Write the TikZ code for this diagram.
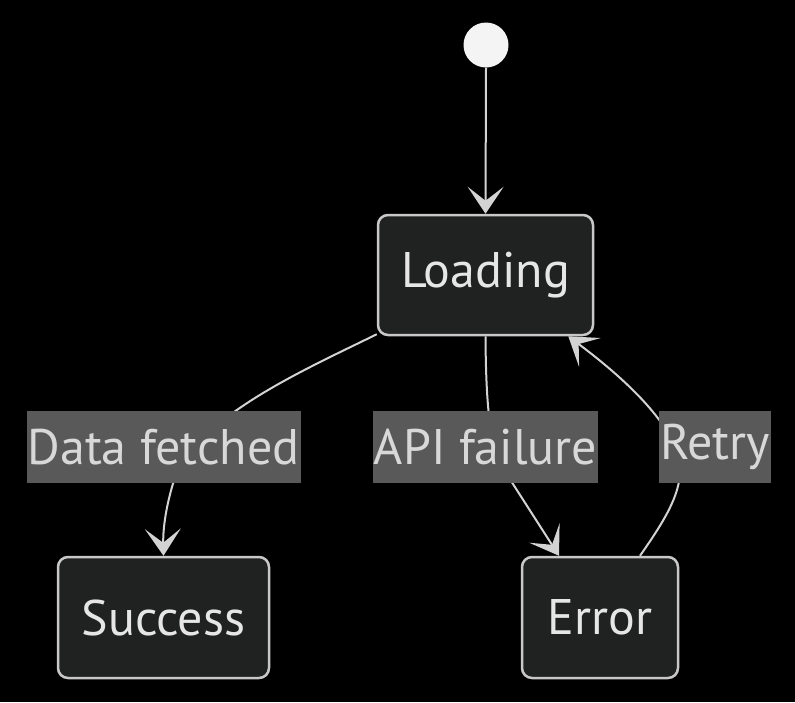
\documentclass[tikz,border=0pt]{standalone}
\usepackage{fontspec}
\setmainfont{PT Sans}
\usetikzlibrary{arrows.meta}
\definecolor{bg}{HTML}{000000}
\definecolor{boxfill}{HTML}{202221}
\definecolor{boxline}{HTML}{C8C8C8}
\definecolor{edgecol}{HTML}{D3D3D3}
\definecolor{boxtext}{HTML}{E6E6E6}
\definecolor{lblfill}{HTML}{595959}
\definecolor{lbltext}{HTML}{D8D8D8}
\definecolor{startfill}{HTML}{F4F4F4}
\tikzset{
  statebox/.style={draw=boxline, fill=boxfill, line width=2.5pt, rounded corners=10pt,
    text=boxtext, font=\fontsize{50}{54}\selectfont, inner sep=0pt, minimum height=121pt},
  lbl/.style={fill=lblfill, text=lbltext, font=\fontsize{50}{54}\selectfont,
    inner xsep=1pt, inner ysep=0pt, minimum height=72pt},
  startdot/.style={circle, fill=startfill, inner sep=0pt, minimum size=45pt},
  conn/.style={draw=edgecol, line width=2pt,
    -{Stealth[length=27pt, width=36pt, inset=14pt]}},
}
\begin{document}
\begin{tikzpicture}[x=1pt, y=-1pt]
\fill[bg] (0,0) rectangle (795,702);
\useasboundingbox (0,0) rectangle (795,702);
\node[startdot] (start) at (486,45) {};
\node[statebox, minimum width=215pt, minimum height=120pt] (loading) at (485.5,275) {Loading};
\node[statebox, minimum width=211pt] (success) at (163.5,617.5) {Success};
\node[statebox, minimum width=156pt] (error) at (600,617.5) {Error};
% connectors
\draw[conn] (start.south) -- (loading.north);
\coordinate (e1s) at ([yshift=2pt]loading.south west);
\draw[conn] (e1s) .. controls (300,372) and (190,420) .. (172,487)
   .. controls (164,515) and (163,535) .. (success.north);
\coordinate (e2t) at ([xshift=-41pt]error.north);
\draw[conn] (loading.south) .. controls (486,420) and (492,450) .. (504,470) -- (e2t);
\coordinate (e3s) at ([xshift=40pt]error.north);
\coordinate (e3t) at ([xshift=-26pt]loading.south east);
\draw[conn] (e3s) .. controls (665,520) and (680,495) .. (680,470)
   .. controls (680,435) and (640,390) .. (e3t);
% labels
\node[lbl] (l1) at (163.5,447) {Data fetched};
\node[lbl] (l2) at (485.5,447) {API failure};
\node[lbl] (l3) at (715,447) {Retry};
\end{tikzpicture}
\end{document}
